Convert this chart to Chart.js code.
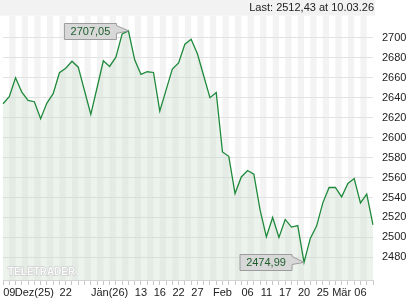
<!DOCTYPE html>
<html>
<head>
<meta charset="utf-8">
<script src="https://cdn.jsdelivr.net/npm/chart.js@4"></script>
<style>
html,body{margin:0;padding:0;background:#fff}
#wrap{width:420px;height:300px}
</style>
</head>
<body>
<div id="wrap"><canvas id="c" width="420" height="300"></canvas></div>
<script>
// trading days shown (60)
const dates = [
  '09.12','10.12','11.12','12.12','15.12','16.12','17.12','18.12','19.12','22.12','23.12','29.12','30.12',
  '02.01','05.01','07.01','08.01','09.01','12.01','13.01','14.01','15.01','16.01','19.01','20.01','21.01','22.01','23.01','26.01','27.01','28.01','29.01','30.01',
  '02.02','03.02','04.02','05.02','06.02','09.02','10.02','11.02','12.02','13.02','16.02','17.02','18.02','19.02','20.02','23.02','24.02','25.02','26.02','27.02',
  '02.03','03.03','04.03','05.03','06.03','09.03','10.03'
];
const closes = [
  2634, 2641, 2660, 2645.6, 2637.3, 2636, 2619, 2634.6, 2644, 2665, 2669.6, 2676.6, 2670.6,
  2647, 2623.3, 2650, 2677, 2671.3, 2680.6, 2704, 2707.05, 2678, 2663.3, 2666, 2665.3, 2626.5, 2647.6, 2668.8, 2674.8, 2693.6, 2698.6, 2684, 2662,
  2640, 2645.3, 2585.6, 2581.3, 2544, 2560.6, 2567, 2563.3, 2527.3, 2500.6, 2520, 2500, 2518, 2510.3, 2511.8, 2474.99,
  2499, 2511.3, 2534.6, 2550, 2550, 2540.6, 2554, 2559, 2534.6, 2543.3, 2512.43
];
const yTicks = [2480, 2500, 2520, 2540, 2560, 2580, 2600, 2620, 2640, 2660, 2680, 2700];
const tickIdx = [1, 5, 10, 17, 22, 25, 28, 31, 35, 39, 42, 45, 48, 51, 54, 57];
const tickLbl = ['09', 'Dez(25)', '22', 'Jän(26)', '13', '16', '22', '27', 'Feb', '06', '11', '17', '20', '25', 'Mär', '06'];
const lastText = 'Last: 2512,43 at 10.03.26';

const FONT = '"Liberation Sans", Arial, sans-serif';

function fmt(v){ return v.toFixed(2).replace('.', ','); }

const backdrop = {
  id:'backdrop',
  beforeDraw(chart){
    const {ctx, chartArea:a, scales:{x}} = chart;
    ctx.save();
    // header band
    ctx.fillStyle = '#f2f2f2';
    ctx.fillRect(0, 0, a.right + 2, a.top);
    // alternating day stripes
    ctx.fillStyle = '#f3f3f3';
    for (let i = 1; i < dates.length - 1; i += 2) {
      const x0 = x.getPixelForValue(i), x1 = x.getPixelForValue(i + 1);
      ctx.fillRect(x0, a.top, x1 - x0, a.bottom - a.top);
    }
    ctx.fillStyle = '#222';
    ctx.font = '11px ' + FONT;
    ctx.textAlign = 'right';
    ctx.textBaseline = 'middle';
    ctx.fillText(lastText, a.right + 1, 8);
    ctx.restore();
  }
};

const marks = {
  id:'marks',
  afterDatasetsDraw(chart){
    const {ctx, scales:{x, y}} = chart;
    ctx.save();
    // watermark
    ctx.font = 'bold 10px ' + FONT;
    ctx.textAlign = 'left';
    ctx.textBaseline = 'alphabetic';
    ctx.lineWidth = 1;
    ctx.strokeStyle = '#c4c4c4';
    ctx.fillStyle = '#fafafa';
    ctx.strokeText('TELETRADER', 8, 275);
    ctx.fillText('TELETRADER', 8, 275);

    // high / low callouts
    const hi = closes.indexOf(Math.max(...closes));
    const lo = closes.indexOf(Math.min(...closes));
    for (const i of [hi, lo]) {
      const px = x.getPixelForValue(i), py = y.getPixelForValue(closes[i]);
      const w = 52, h = 16, r = px - 12, l = r - w, t = Math.round(py - 8) + 0.5;
      ctx.fillStyle = '#d8d8d8';
      ctx.strokeStyle = '#9c9c9c';
      ctx.beginPath();
      ctx.moveTo(l, t);
      ctx.lineTo(r, t);
      ctx.lineTo(r, t + 2);
      ctx.lineTo(px, py);
      ctx.lineTo(r, t + h - 6);
      ctx.lineTo(r, t + h);
      ctx.lineTo(l, t + h);
      ctx.closePath();
      ctx.fill();
      ctx.stroke();
      ctx.fillStyle = '#1d5e2c';
      ctx.font = '11px ' + FONT;
      ctx.textAlign = 'center';
      ctx.textBaseline = 'middle';
      ctx.fillText(fmt(closes[i]), l + w / 2, t + h / 2 + 0.5);
    }
    ctx.restore();
  }
};

new Chart(document.getElementById('c').getContext('2d'), {
  type:'line',
  data:{
    labels:dates,
    datasets:[{
      data:closes,
      borderColor:'#1f8a3b',
      borderWidth:1.3,
      backgroundColor:'rgba(195,215,195,0.32)',
      fill:'start',
      pointRadius:0,
      tension:0
    }]
  },
  options:{
    responsive:false,
    animation:false,
    devicePixelRatio:1,
    layout:{ padding:{ left:3, top:15, right:0, bottom:0 } },
    plugins:{ legend:{display:false}, tooltip:{enabled:false} },
    scales:{
      x:{
        type:'category',
        afterFit(s){ s.height = 20; },
        grid:{ drawOnChartArea:false, drawTicks:true, tickLength:5, color:'#c8c8c8' },
        border:{ display:true, color:'#d4d4d4' },
        ticks:{
          autoSkip:false, maxRotation:0, minRotation:0, padding:1,
          color:'#222', font:{ family:FONT, size:11 },
          callback(v, i){ const k = tickIdx.indexOf(i); return k < 0 ? '' : tickLbl[k]; }
        }
      },
      y:{
        position:'right',
        min:2457.3,
        max:2722.3,
        afterFit(s){ s.width = 47; },
        afterBuildTicks(s){ s.ticks = yTicks.map(v => ({value:v})); },
        grid:{ color:'#e2e2e2', drawTicks:false },
        border:{ display:false },
        ticks:{ padding:9, color:'#222', font:{ family:FONT, size:11 }, callback:v => String(v) }
      }
    }
  },
  plugins:[backdrop, marks]
});
</script>
</body>
</html>
